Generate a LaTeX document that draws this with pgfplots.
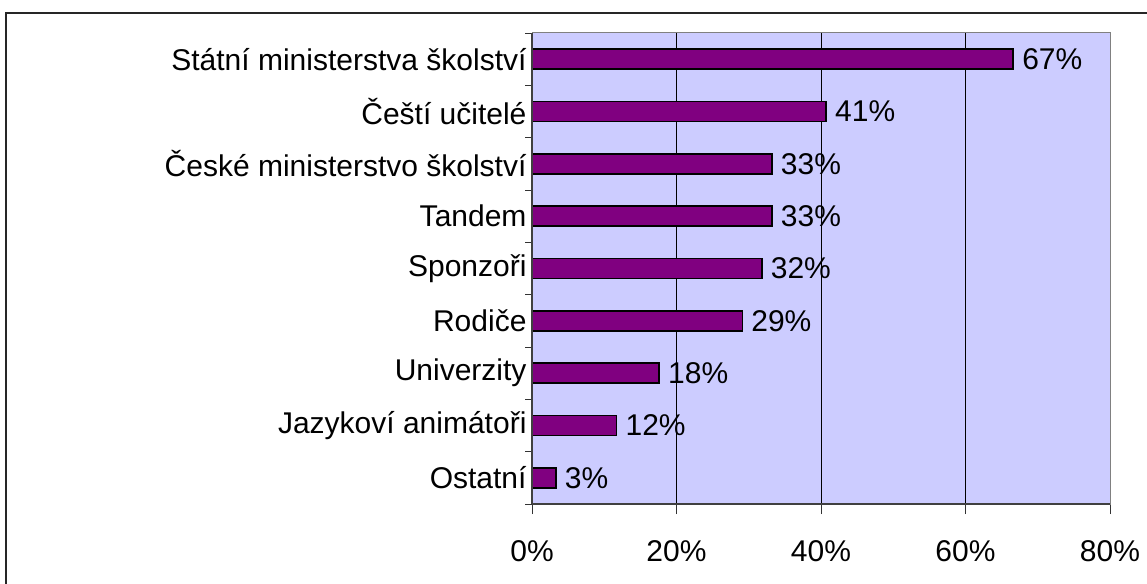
\documentclass[border=0pt]{standalone}
\usepackage{pgfplots}
\pgfplotsset{compat=1.18}
\usepackage{fontspec}
\setmainfont{Liberation Sans}
\definecolor{bgc}{HTML}{CCCCFF}
\definecolor{barc}{HTML}{800080}
\definecolor{axgray}{HTML}{808080}
\begin{document}
\begin{tikzpicture}
\useasboundingbox (0pt,0pt) rectangle (1147pt,583pt);
\fill[white] (0pt,0pt) rectangle (1147pt,583pt);
\draw[line width=1.3pt, black!85] (6pt,570pt) rectangle (1170pt,-20pt);
\begin{axis}[
  at={(532pt,79pt)}, anchor=south west,
  width=578pt, height=471pt, scale only axis,
  xmin=0, xmax=80, ymin=-0.5, ymax=8.5,
  axis background/.style={fill=bgc},
  axis line style={draw=axgray, line width=1pt},
  xtick={0,20,40,60,80},
  xticklabel={\pgfmathprintnumber{\tick}\%},
  ytick={0,...,8},
  yticklabels={Ostatní, Jazykoví animátoři, Univerzity, Rodiče, Sponzoři, Tandem, České ministerstvo školství, Čeští učitelé, Státní ministerstva školství},
  minor ytick={-0.5,0.5,...,8.5},
  xtick pos=left, ytick pos=left,
  tick align=outside,
  major tick length=10pt,
  minor tick length=7pt,
  major y tick style={draw=none},
  minor y tick style={draw=black!80, line width=0.8pt},
  major x tick style={draw=black!80, line width=0.8pt},
  xmajorgrids,
  major x grid style={draw=black, line width=0.9pt},
  /pgf/number format/assume math mode=true,
  tick label style={font=\fontsize{30}{36}\selectfont},
  xticklabel style={yshift=-23pt},
  yticklabel style={xshift=8pt},
  clip=false,
]
\addplot[xbar, fill=barc, draw=black, line width=1.5pt, bar width=0.38,
  point meta=x,
  nodes near coords={\pgfmathprintnumber[fixed,precision=0]{\pgfplotspointmeta}\%},
  every node near coord/.append style={font=\fontsize{30}{36}\selectfont, black, anchor=west, xshift=5pt, /pgf/number format/assume math mode=true},
] coordinates {
  (3.3,0) (11.7,1) (17.6,2) (29.1,3) (31.8,4) (33.2,5) (33.2,6) (40.7,7) (66.6,8)
};
\draw[black!75, line width=1.3pt] (axis cs:0,-0.5) -- (axis cs:80,-0.5);
\draw[black!75, line width=1.3pt] (axis cs:0,-0.5) -- (axis cs:0,8.5);
\end{axis}
\end{tikzpicture}
\end{document}
